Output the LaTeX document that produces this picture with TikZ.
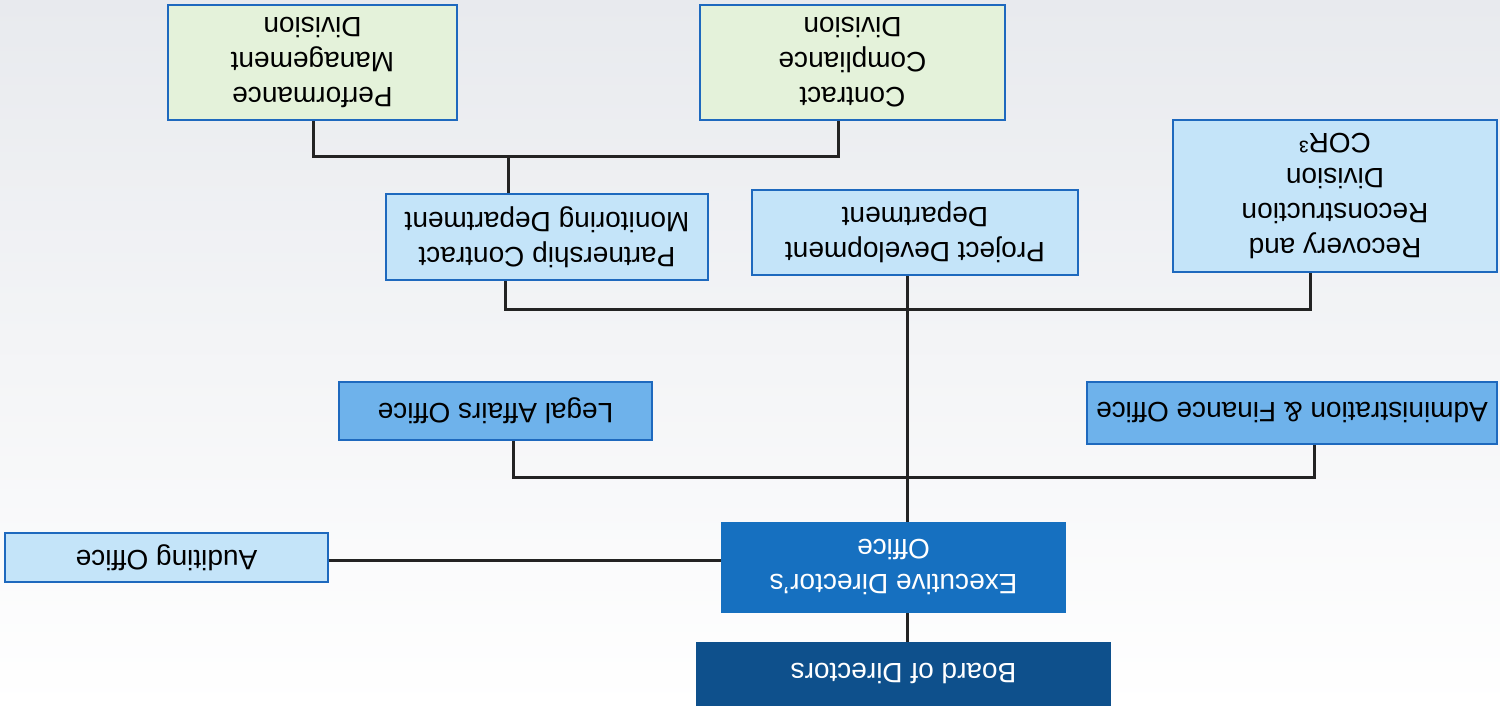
\documentclass[tikz,border=0pt]{standalone}
\usepackage{fontspec}
\setmainfont{Liberation Sans}
\definecolor{bgtop}{RGB}{232,234,238}
\definecolor{boardc}{RGB}{14,80,140}
\definecolor{execc}{RGB}{22,112,192}
\definecolor{midc}{RGB}{110,178,235}
\definecolor{lightc}{RGB}{196,228,249}
\definecolor{greenc}{RGB}{228,242,218}
\definecolor{bordc}{RGB}{30,105,190}
\definecolor{linec}{RGB}{35,35,35}
\begin{document}
\begin{tikzpicture}[x=1pt,y=-1pt,
  box/.style={rectangle, line width=2.6pt, inner sep=0pt},
  darkbox/.style={box, fill=boardc, draw=boardc},
  execbox/.style={box, fill=execc, draw=execc},
  midbox/.style={box, fill=midc, draw=bordc},
  lightbox/.style={box, fill=lightc, draw=bordc},
  greenbox/.style={box, fill=greenc, draw=bordc},
  every label/.style={rotate=180, align=center, inner sep=0pt,
    font=\fontsize{28}{35}\selectfont, text=black},
  conn/.style={draw=linec, line width=3pt}]
\useasboundingbox (0,0) rectangle (1500,708);
\shade[top color=bgtop, bottom color=white] (0,0) rectangle (1500,708);

\node[darkbox, minimum width=413, minimum height=62,
  label={[text=white]center:Board of Directors}] (board) at (903.5,674) {};
\node[execbox, minimum width=343, minimum height=89,
  label={[text=white]center:{Executive Director’s\\Office}}] (exec) at (893.5,567.5) {};
\node[lightbox, minimum width=323, minimum height=49,
  label={center:Auditing Office}] (audit) at (166.5,557.5) {};
\node[midbox, minimum width=313, minimum height=58,
  label={center:Legal Affairs Office}] (legal) at (495.5,411) {};
\node[midbox, minimum width=410, minimum height=62,
  label={center:Administration \& Finance Office}] (admin) at (1292,413) {};
\node[lightbox, minimum width=322, minimum height=86,
  label={center:{Partnership Contract\\Monitoring Department}}] (partner) at (547,237) {};
\node[lightbox, minimum width=326, minimum height=85,
  label={center:{Project Development\\Department}}] (project) at (915,232.5) {};
\node[lightbox, minimum width=324, minimum height=152,
  label={center:{Recovery and\\Reconstruction\\Division\\COR³}}] (recovery) at (1335,196) {};
\node[greenbox, minimum width=289, minimum height=115,
  label={center:{Performance\\Management\\Division}}] (perf) at (312.5,62.5) {};
\node[greenbox, minimum width=305, minimum height=115,
  label={center:{Contract\\Compliance\\Division}}] (contract) at (852.5,62.5) {};

\coordinate (tx) at (907,0);
\coordinate (j1) at (907,478);
\coordinate (j2) at (907,310);
\coordinate (j3) at (508,157);
\coordinate (lx) at (513,0);
\coordinate (ax) at (1314,0);
\coordinate (px) at (505,0);
\coordinate (rx) at (1310,0);
\coordinate (fx) at (313,0);
\coordinate (cx) at (838,0);
\coordinate (ay) at (0,560);

\draw[conn] (board.north -| tx) -- (exec.south -| tx);
\draw[conn] (audit.east |- ay) -- (exec.west |- ay);
\draw[conn] (exec.north -| tx) -- (project.south -| tx);
\draw[conn] (legal.south -| lx) -- (lx |- j1) -- (ax |- j1) -- (admin.south -| ax);
\draw[conn] (partner.south -| px) -- (px |- j2) -- (rx |- j2) -- (recovery.south -| rx);
\draw[conn] (partner.north -| j3) -- (j3);
\draw[conn] (perf.south -| fx) -- (fx |- j3) -- (cx |- j3) -- (contract.south -| cx);
\end{tikzpicture}
\end{document}
